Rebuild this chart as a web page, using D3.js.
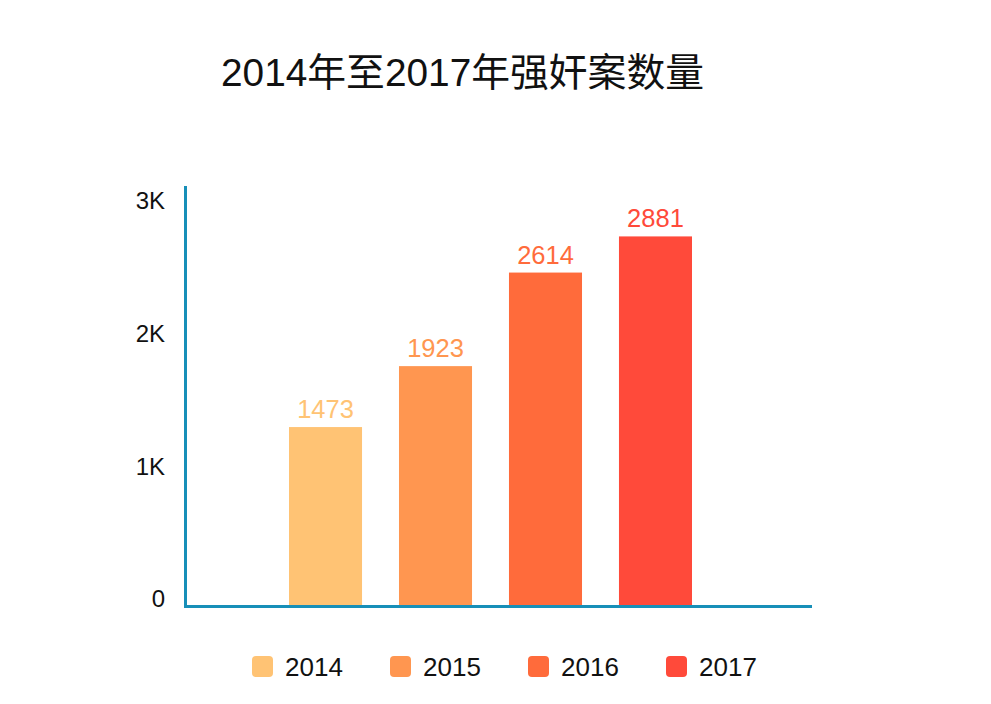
<!DOCTYPE html>
<html>
<head>
<meta charset="utf-8">
<script src="https://cdn.jsdelivr.net/npm/d3@7/dist/d3.min.js"></script>
<style>
  html, body { margin: 0; padding: 0; background: #ffffff; }
  svg { display: block; }
</style>
</head>
<body>
<script>
const title = "2014年至2017年强奸案数量";
const years = ["2014", "2015", "2016", "2017"];
const cases = [1473, 1923, 2614, 2881];
const colors = ["#FFC374", "#FF9650", "#FF6B3B", "#FF4A3A"];
const tickValues = [0, 1000, 2000, 3000];
const tickLabels = ["0", "1K", "2K", "3K"];

const W = 991, H = 704;
const baseY = 605;
const latin = "'Liberation Sans', Arial, 'Noto Sans CJK SC', sans-serif";

const svg = d3.select("body").append("svg")
  .attr("width", W).attr("height", H);
svg.append("rect").attr("width", W).attr("height", H).attr("fill", "#fff");

svg.append("text")
  .attr("x", 462.5).attr("y", 86)
  .attr("text-anchor", "middle")
  .style("font-family", latin)
  .style("font-size", "38.8px")
  .attr("fill", "#111")
  .text(title);

const x = d3.scaleBand().domain(years).range([289, 692]).paddingInner(0.336).paddingOuter(0);
const yBar = d3.scaleLinear().domain([0, 3000]).range([626.5, 220.3]);
const yAxis = d3.scaleLinear().domain([0, 3000]).range([599, 201]);

const data = years.map((y, i) => ({ year: y, value: cases[i], color: colors[i] }));

// bars
svg.append("g").selectAll("rect").data(data).join("rect")
  .attr("x", d => x(d.year))
  .attr("y", d => yBar(d.value))
  .attr("width", x.bandwidth())
  .attr("height", d => baseY - yBar(d.value))
  .attr("fill", d => d.color);

// value labels
svg.append("g").selectAll("text").data(data).join("text")
  .attr("x", d => x(d.year) + x.bandwidth() / 2)
  .attr("y", d => yBar(d.value) - 9)
  .attr("text-anchor", "middle")
  .style("font-family", latin)
  .style("font-size", "25.5px")
  .attr("fill", d => d.color)
  .text(d => d.value);

// y axis labels
const axis = d3.axisLeft(yAxis).tickValues(tickValues)
  .tickFormat((d, i) => tickLabels[i]).tickSize(0).tickPadding(0);
const gAxis = svg.append("g").attr("transform", "translate(165,0)").call(axis);
gAxis.select(".domain").remove();
gAxis.selectAll("text")
  .style("font-family", latin)
  .style("font-size", "24px")
  .attr("fill", "#111");

// axis lines
const axisColor = "#178FB8";
svg.append("line").attr("x1", 185.5).attr("x2", 185.5).attr("y1", 186).attr("y2", 608)
  .attr("stroke", axisColor).attr("stroke-width", 3);
svg.append("line").attr("x1", 184).attr("x2", 812).attr("y1", 606.5).attr("y2", 606.5)
  .attr("stroke", axisColor).attr("stroke-width", 3);

// legend
const legend = svg.append("g").selectAll("g").data(data).join("g")
  .attr("transform", (d, i) => `translate(${252 + i * 138},656)`);
legend.append("rect").attr("width", 21).attr("height", 21).attr("rx", 4)
  .attr("fill", d => d.color);
legend.append("text").attr("x", 33).attr("y", 19.5)
  .style("font-family", latin)
  .style("font-size", "26px")
  .attr("fill", "#111")
  .text(d => d.year);
</script>
</body>
</html>
